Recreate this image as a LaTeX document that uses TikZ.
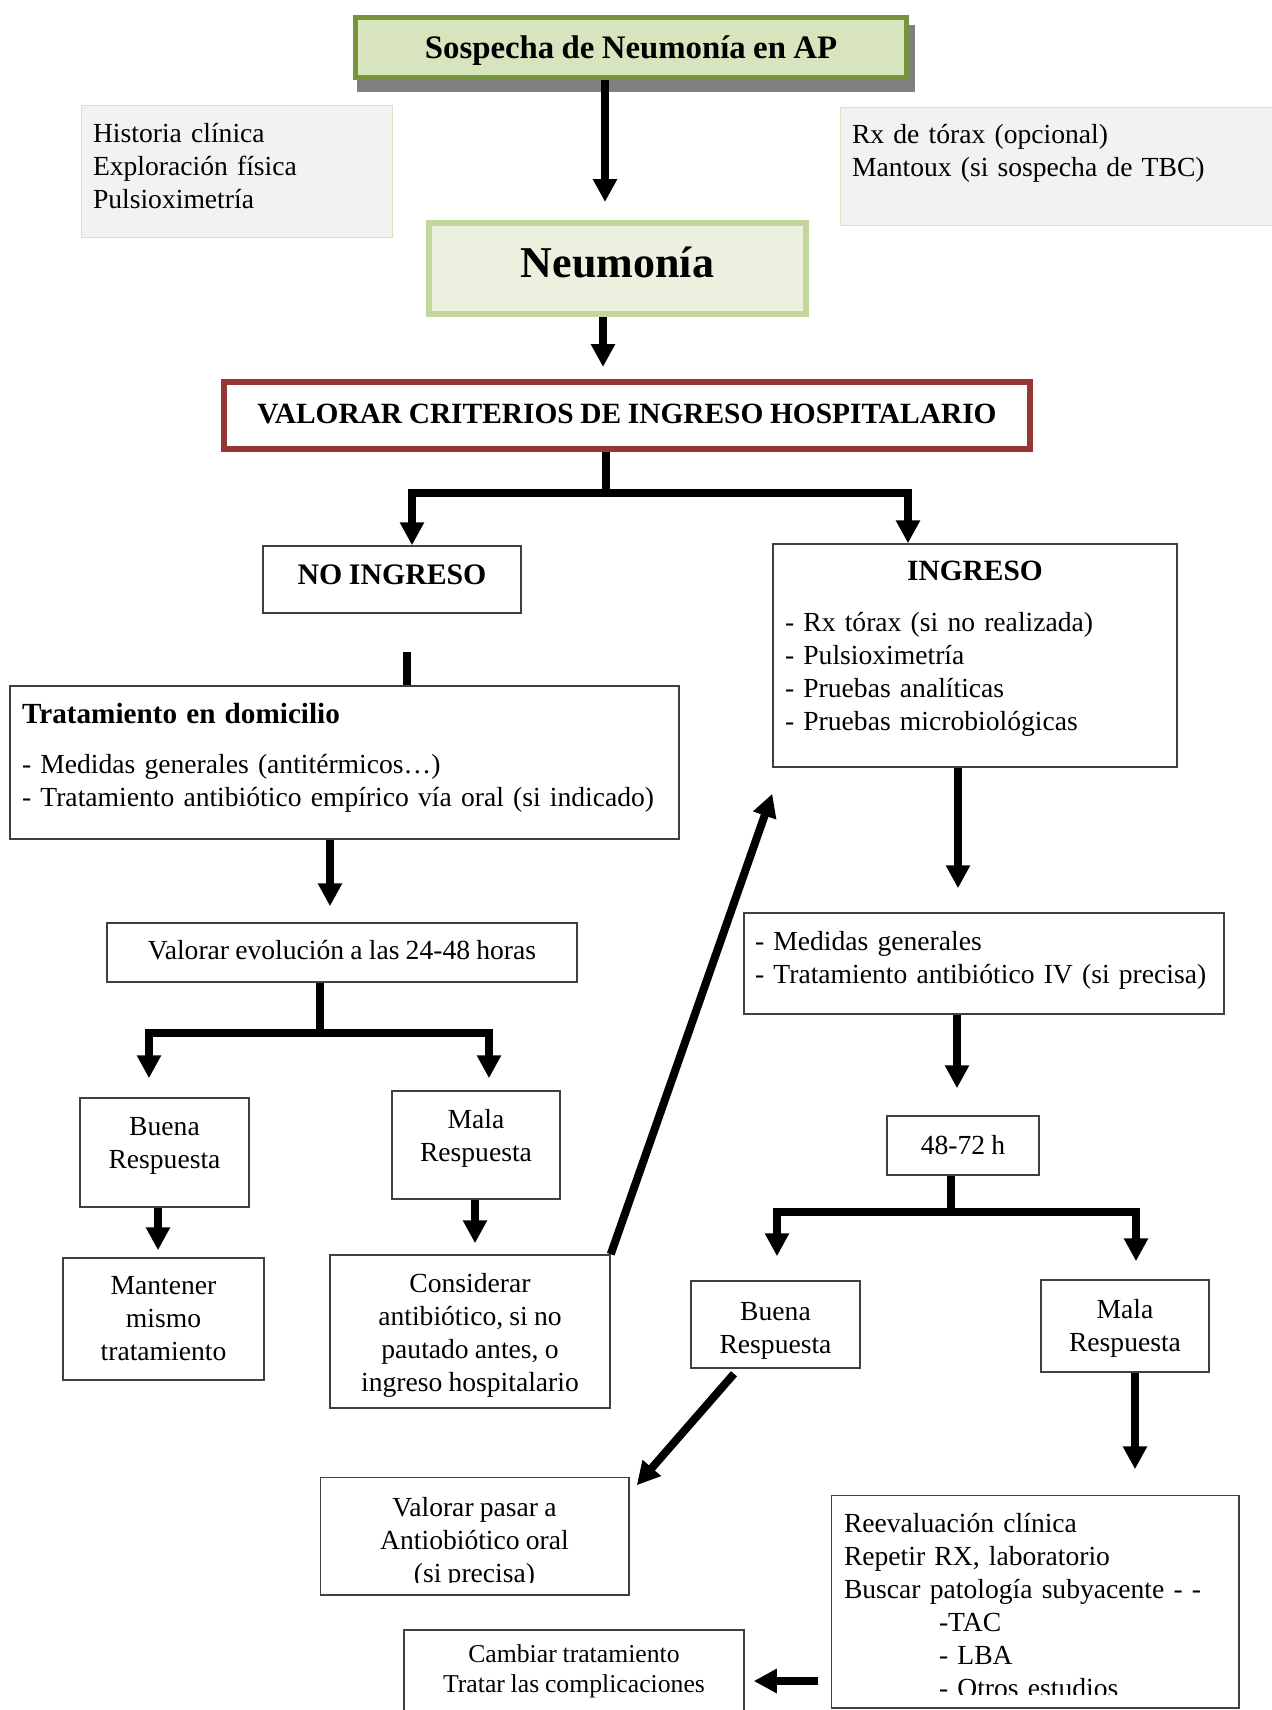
\documentclass[tikz,border=0pt]{standalone}
\usepackage{fontspec}
\setmainfont{Liberation Serif}[WordSpace=0.9]
\usetikzlibrary{arrows.meta}
\definecolor{olvborder}{RGB}{119,147,60}
\definecolor{olvfill}{RGB}{215,228,189}
\definecolor{neuborder}{RGB}{195,214,155}
\definecolor{neufill}{RGB}{235,241,222}
\definecolor{valred}{RGB}{149,55,53}
\definecolor{histfill}{RGB}{242,242,242}
\definecolor{histborder}{RGB}{215,228,189}
\definecolor{shadowgray}{RGB}{128,128,128}
\newcommand{\txup}[1]{\rule[-#1]{0pt}{#1}}
\newcommand{\txdn}[1]{\rule{0pt}{#1}}
\begin{document}
\begin{tikzpicture}[x=0.5pt,y=-0.5pt,
  txt/.style={font=\fontsize{13.8}{16.5}\selectfont},
  bx/.style={draw=black!75, line width=0.75pt, fill=white, inner sep=0pt, txt, align=center},
  lbx/.style={bx, align=left},
  boxline/.style={draw=black!75, line width=0.75pt},
  conn/.style={line width=4pt},
  arr/.style={line width=4pt, -{Triangle[width=11.5pt,length=11.5pt]}}]
\useasboundingbox (0,0) rectangle (1272,1710);
\clip (0,0) rectangle (1272,1710);

% top
\fill[shadowgray] (357,25) rectangle (915,92);
\node[bx, draw=olvborder, line width=2.5pt, fill=olvfill, minimum width=275.5pt, minimum height=30pt,
  font=\fontsize{16.4}{18}\selectfont\bfseries] (sospecha) at (631,47.5) {\txdn{14.8pt}Sospecha de Neumonía en AP};

\node[lbx, draw=histborder, line width=0.5pt, fill=histfill, minimum width=155.5pt, minimum height=66pt,
  text width=143.5pt] (historia) at (236.5,171) {Historia clínica\\Exploración física\\Pulsioximetría\txup{4.7pt}};

\node[lbx, draw=histborder, line width=0.5pt, fill=histfill, minimum width=230pt, minimum height=59pt,
  text width=218pt] (rx) at (1070,166) {Rx de tórax (opcional)\\Mantoux (si sospecha de TBC)\txup{15.3pt}};

\node[bx, draw=neuborder, line width=3pt, fill=neufill, minimum width=188.5pt, minimum height=45.5pt,
  font=\fontsize{22}{26}\selectfont\bfseries] (neumonia) at (617.5,268.5) {Neumonía\txup{6.5pt}};

\node[bx, draw=valred, line width=3pt, minimum width=403pt, minimum height=33.5pt,
  font=\fontsize{14.7}{17}\selectfont\bfseries] (valorar) at (627,415.5) {VALORAR CRITERIOS DE INGRESO HOSPITALARIO\txup{2.2pt}};

% left branch
\node[bx, minimum width=129pt, minimum height=33.5pt, font=\fontsize{14.9}{17}\selectfont\bfseries]
  (noingreso) at (392,579.5) {NO INGRESO\txup{4.5pt}};

\node[lbx, minimum width=334.5pt, minimum height=76.5pt, text width=322.5pt] (tratamiento) at (344.5,762.5)
  {{\fontsize{14.6}{16.5}\selectfont\bfseries Tratamiento en domicilio}\\[8.5pt]- Medidas generales (antitérmicos…)\\- Tratamiento antibiótico empírico vía oral (si indicado)\txup{7.5pt}};

\node[bx, minimum width=235pt, minimum height=29.5pt] (valorarEv) at (342,952.5) {Valorar evolución a las 24-48 horas\txup{2.2pt}};

\node[bx, minimum width=84.5pt, minimum height=54.5pt] (buenaL) at (164.5,1152.5) {Buena\\Respuesta\txup{9.2pt}};
\node[bx, minimum width=84pt, minimum height=54pt] (malaL) at (476,1145) {Mala\\Respuesta\txup{9.8pt}};
\node[bx, minimum width=100.5pt, minimum height=61pt] (mantener) at (163.5,1319) {Mantener\\mismo\\tratamiento};
\node[bx, minimum width=140pt, minimum height=76.5pt] (considerar) at (470,1331.5)
  {\txdn{13.9pt}Considerar\\antibiótico, si no\\pautado antes, o\\ingreso hospitalario};

% right branch
\node[lbx, minimum width=202pt, minimum height=111.5pt, text width=190pt] (ingreso) at (975,655.5)
  {\makebox[190pt]{\fontsize{14.7}{16.5}\selectfont\bfseries INGRESO}\\[9pt]- Rx tórax (si no realizada)\\- Pulsioximetría\\- Pruebas analíticas\\- Pruebas microbiológicas\txup{10pt}};

\node[lbx, minimum width=240pt, minimum height=50.5pt, text width=229pt] (medidas) at (984,963.5)
  {- Medidas generales\\- Tratamiento antibiótico IV (si precisa)\txup{5.6pt}};

\node[bx, minimum width=76pt, minimum height=29.5pt] (h4872) at (963,1145.5) {48-72 h};

\node[bx, minimum width=84.5pt, minimum height=43.5pt] (buenaR) at (775.5,1324.5) {\txdn{15.4pt}Buena\\Respuesta};
\node[bx, minimum width=84pt, minimum height=46pt] (malaR) at (1125,1326) {\txdn{11.7pt}Mala\\Respuesta};

\begin{scope}
\clip (321,1478) rectangle (628,1582);
\node[bx, draw=none, fill=none, minimum width=153.5pt, minimum height=58pt] (valorarPasar) at (474.5,1536)
  {\txdn{16.7pt}Valorar pasar a\\Antiobiótico oral\\(si precisa)};
\end{scope}
\draw[boxline] (valorarPasar.north west) rectangle (valorarPasar.south east);

\begin{scope}
\clip (832,1496) rectangle (1238,1694);
\node[lbx, draw=none, fill=none, minimum width=203pt, minimum height=105.5pt, text width=191pt] (reeval) at (1035,1601.5)
  {\txdn{13.5pt}Reevaluación clínica\\Repetir RX, laboratorio\\Buscar patología subyacente - -\\\hspace*{47.5pt}-TAC\\\hspace*{47.5pt}- LBA\\\hspace*{47.5pt}- Otros estudios};
\end{scope}
\draw[boxline] (reeval.north west) rectangle (reeval.south east);

\node[bx, minimum width=170pt, minimum height=41pt, font=\fontsize{12.85}{15}\selectfont] (cambiar) at (574,1671)
  {Cambiar tratamiento\\Tratar las complicaciones};

% connectors
\coordinate (b1) at (606,493);
\coordinate (s1) at (407,652);
\coordinate (b2) at (320,1033);
\coordinate (b3) at (951,1212);

\draw[arr] ([xshift=-13pt]sospecha.south) -- ([xshift=-6.25pt,yshift=9pt]neumonia.north);
\draw[arr] ([xshift=-7.25pt]neumonia.south) -- ([xshift=-12pt,yshift=6pt]valorar.north);
\draw[conn] ([xshift=-10.5pt]valorar.south) -- (b1);
\draw[arr] (b1) -| ([xshift=10pt]noingreso.north);
\draw[arr] (b1) -| ([xshift=-33.5pt]ingreso.north);
\draw[conn] (s1) -- (s1 |- tratamiento.north);
\draw[arr] ([xshift=-7.25pt]tratamiento.south) -- ([xshift=-6pt,yshift=8pt]valorarEv.north);
\draw[conn] ([xshift=-11pt]valorarEv.south) -- (b2);
\draw[arr] (b2) -| ([xshift=-7.75pt,yshift=9.5pt]buenaL.north);
\draw[arr] (b2) -| ([xshift=6.5pt,yshift=6pt]malaL.north);
\draw[arr] ([xshift=-3.25pt]buenaL.south) -- ([xshift=-2.75pt,yshift=3.5pt]mantener.north);
\draw[arr] ([xshift=-0.5pt]malaL.south) -- ([xshift=2.5pt,yshift=5.5pt]considerar.north);
\draw[arr] (considerar.north east) -- ([yshift=-13pt]ingreso.south west);
\draw[arr] ([xshift=-8.5pt]ingreso.south) -- ([xshift=-13pt,yshift=12pt]medidas.north);
\draw[arr] ([xshift=-13.5pt]medidas.south) -- ([xshift=-3pt,yshift=13.5pt]h4872.north);
\draw[conn] ([xshift=-6pt]h4872.south) -- (b3);
\draw[arr] (b3) -| ([xshift=0.75pt,yshift=12pt]buenaR.north);
\draw[arr] (b3) -| ([xshift=5.5pt,yshift=9pt]malaR.north);
\draw[arr] ([xshift=-20.75pt,yshift=-2.5pt]buenaR.south) -- ([xshift=4pt,yshift=-4pt]valorarPasar.north east);
\draw[arr] ([xshift=5pt]malaR.south) -- ([xshift=50pt,yshift=13pt]reeval.north);
\draw[arr] ([xshift=-6.5pt,yshift=-39.75pt]reeval.west) -- ([xshift=4.5pt,yshift=-5pt]cambiar.east);
\end{tikzpicture}
\end{document}
